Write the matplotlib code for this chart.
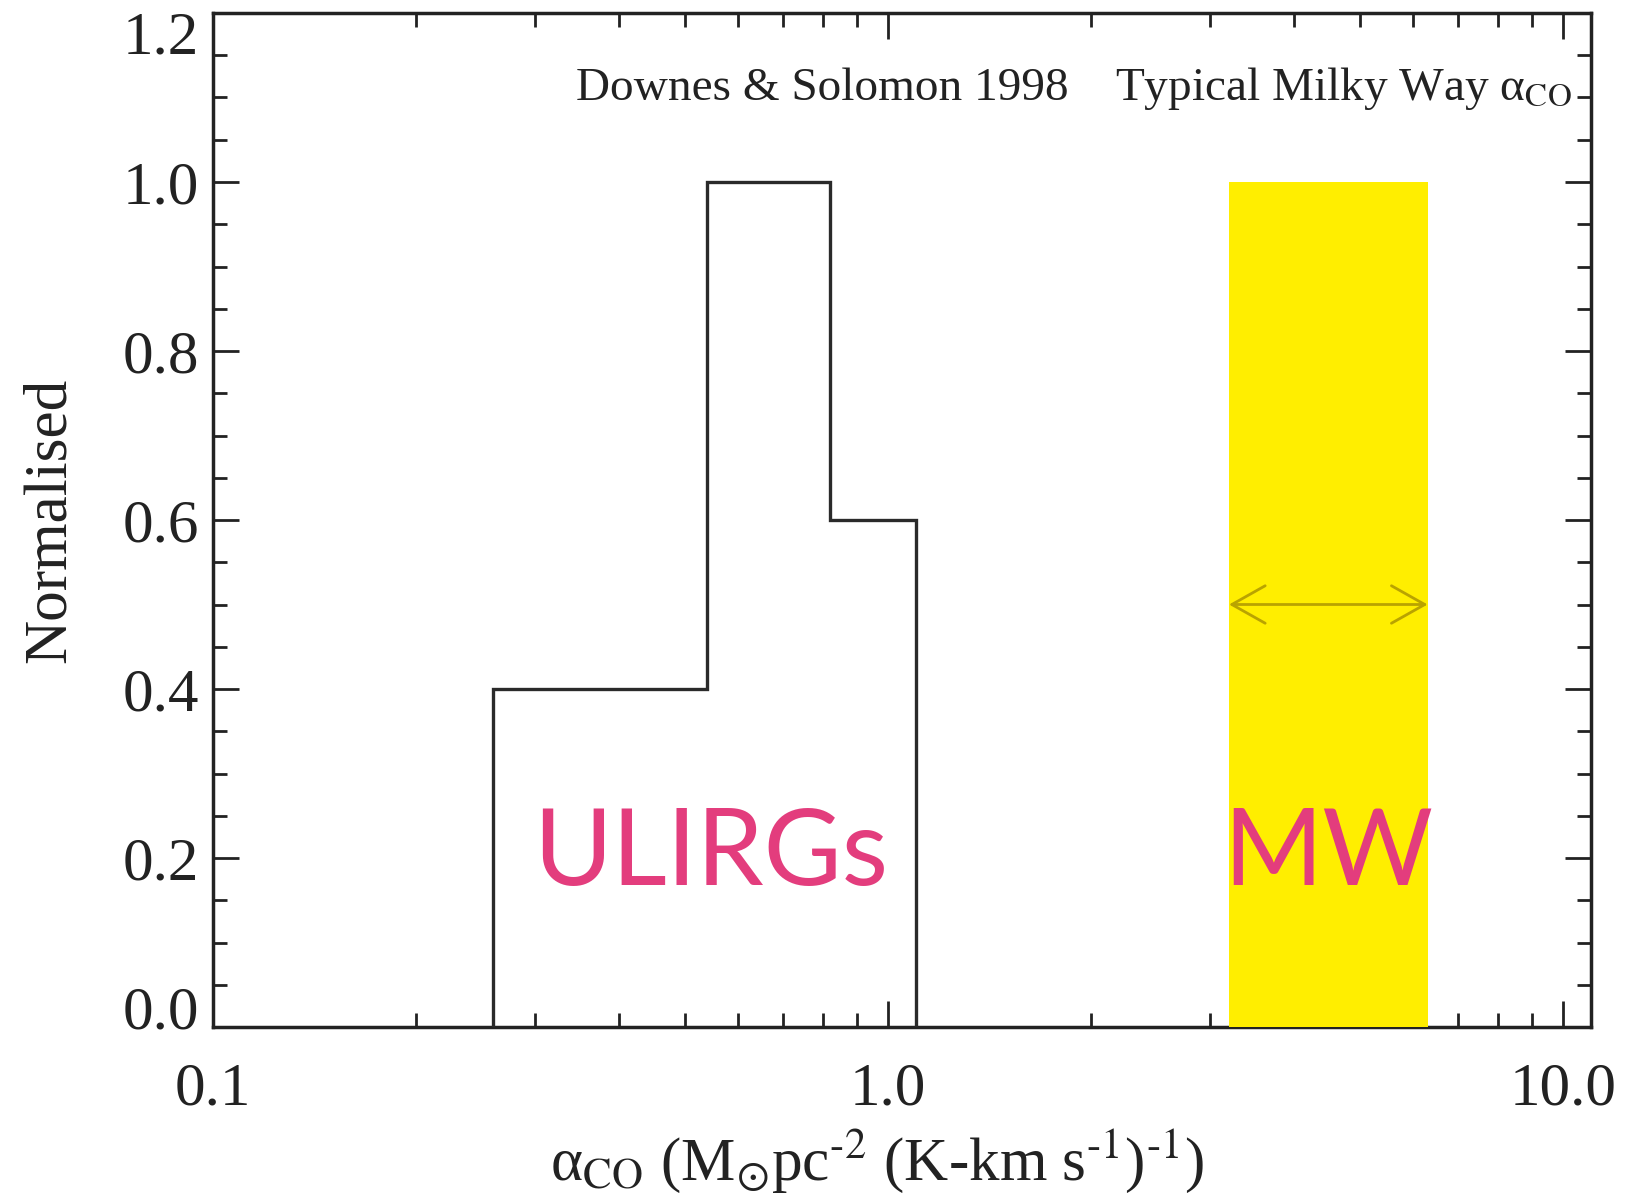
import matplotlib
matplotlib.use("Agg")
import matplotlib.pyplot as plt
from matplotlib.transforms import ScaledTranslation

plt.rcParams['font.family'] = ['Liberation Serif', 'DejaVu Serif']
plt.rcParams['mathtext.fontset'] = 'stix'

# ULIRG alpha_CO histogram (Downes & Solomon 1998)
bin_edges = [0.26, 0.54, 0.82, 1.10]
bin_values = [0.4, 1.0, 0.6]

# typical Milky Way range
mw_range = [3.2, 6.3]
mw_height = 1.0
mw_arrow_y = 0.5

x_ticks = [0.1, 1.0, 10.0]
x_ticklabels = ["0.1", "1.0", "10.0"]
y_ticks = [0.0, 0.2, 0.4, 0.6, 0.8, 1.0, 1.2]

W, H = 1647, 1201
fig = plt.figure(figsize=(W / 100, H / 100), dpi=100)
ax = fig.add_axes([213 / W, 1 - 1027 / H, (1591 - 213) / W, (1027 - 13) / H])

ax.set_xscale('log')
ax.set_xlim(0.1, 11)
ax.set_ylim(0, 1.2)

# yellow MW band covers the axis line like in the original
ax.fill_between(mw_range, 0, mw_height, color='#FFEE00', lw=0, zorder=3)
ax.annotate('', xy=(mw_range[0], mw_arrow_y), xytext=(mw_range[1], mw_arrow_y),
            arrowprops=dict(arrowstyle='<->,head_length=0.8,head_width=0.45',
                            color='#B9A300', lw=2, shrinkA=0, shrinkB=0,
                            mutation_scale=30), zorder=4)

ax.stairs(bin_values, bin_edges, color='#2a2a2a', lw=2.4, zorder=4)

ax.set_xticks(x_ticks)
ax.set_xticklabels(x_ticklabels)
ax.set_yticks(y_ticks)
ax.set_yticklabels([f"{v:.1f}" for v in y_ticks])
ax.yaxis.set_minor_locator(matplotlib.ticker.MultipleLocator(0.05))
ax.xaxis.set_minor_locator(matplotlib.ticker.LogLocator(base=10, subs=range(2, 10)))
ax.xaxis.set_minor_formatter(matplotlib.ticker.NullFormatter())

ax.tick_params(which='both', direction='in', top=True, right=True,
               colors='#222222', labelsize=44, width=2)
ax.tick_params(which='major', length=19)
ax.tick_params(which='minor', length=10)
ax.tick_params(axis='x', pad=25)
ax.tick_params(axis='y', pad=10)
for sp in ax.spines.values():
    sp.set_linewidth(2.5)
    sp.set_color('#222222')

# end labels of the y axis sit inside the axis range, as in the original
ylabels = ax.get_yticklabels()
ylabels[0].set_transform(ylabels[0].get_transform() + ScaledTranslation(0, 14 / 72, fig.dpi_scale_trans))
ylabels[-1].set_transform(ylabels[-1].get_transform() + ScaledTranslation(0, -14 / 72, fig.dpi_scale_trans))

ax.set_xlabel(r'α$_{\rm CO}$ (M$_{\odot}$pc$^{\text{-2}}$ (K-km s$^{\text{-1}}$)$^{\text{-1}}$)',
              fontsize=44, color='#222222', labelpad=7)
ax.xaxis.label.set_x(0.482)
ax.set_ylabel('Normalised', fontsize=44, color='#222222', labelpad=32)

ax.text(0.345, 1.097, 'Downes & Solomon 1998', fontsize=34, color='#222222',
        ha='left', va='baseline')
ax.text(2.17, 1.097, r'Typical Milky Way α$_{\rm CO}$', fontsize=34, color='#222222',
        ha='left', va='baseline')

ax.text(0.546, 0.168, 'ULIRGs', fontsize=77, color='#E33D7D', family='Lato',
        ha='center', va='baseline', zorder=5)
ax.text((mw_range[0] * mw_range[1]) ** 0.5, 0.168, 'MW', fontsize=77,
        color='#E33D7D', family='Lato', ha='center', va='baseline', zorder=5)

fig.savefig('out.png', dpi=100)
